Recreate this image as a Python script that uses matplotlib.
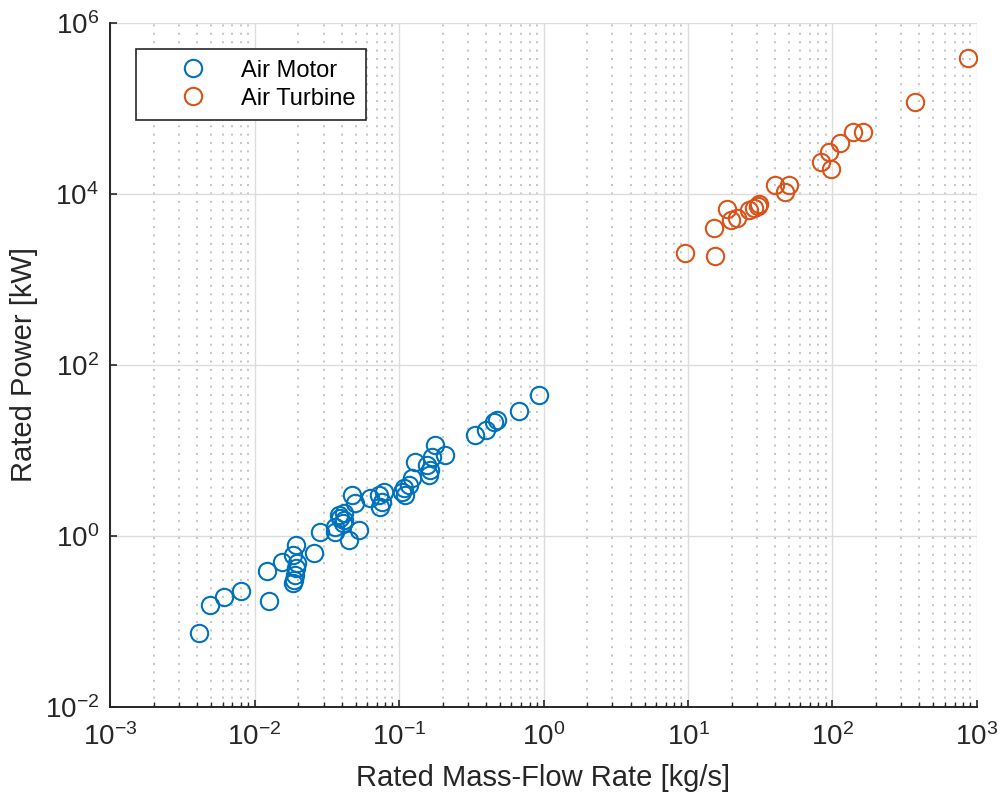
import matplotlib
matplotlib.use("Agg")
import matplotlib.pyplot as plt
import numpy as np

plt.rcParams["font.family"] = ["Liberation Sans", "DejaVu Sans"]
plt.rcParams["mathtext.fontset"] = "custom"
plt.rcParams["mathtext.rm"] = "Liberation Sans"
plt.rcParams["axes.unicode_minus"] = False

# Air motor data (mass flow [kg/s], power [kW])
motor_flow = [0.00415, 0.00488, 0.00610, 0.00807, 0.01268, 0.01222, 0.01545, 0.0194,
              0.01858, 0.0196, 0.0194, 0.0191, 0.0186, 0.0184, 0.0256, 0.0285,
              0.0361, 0.0391, 0.0381, 0.0413, 0.0417, 0.0409, 0.0361, 0.0447,
              0.0525, 0.0476, 0.0492, 0.0633, 0.0722, 0.0762, 0.0742, 0.0782,
              0.1047, 0.1074, 0.110, 0.1164, 0.1228, 0.1295, 0.156, 0.160,
              0.164, 0.169, 0.178, 0.209, 0.337, 0.402, 0.451, 0.476, 0.676, 0.925]
motor_power = [0.074, 0.157, 0.195, 0.229, 0.175, 0.393, 0.500, 0.785,
               0.600, 0.480, 0.419, 0.350, 0.305, 0.280, 0.628, 1.12,
               1.29, 1.61, 1.76, 1.84, 1.54, 1.41, 1.12, 0.897,
               1.17, 3.02, 2.42, 2.76, 3.02, 2.52, 2.20, 3.30,
               3.30, 3.61, 3.02, 3.95, 4.73, 7.39, 6.77, 5.16,
               5.92, 8.47, 11.6, 8.86, 15.2, 17.4, 21.7, 22.8, 29.2, 44.6]

# Air turbine data
turbine_flow = [9.5, 15.3, 15.2, 18.5, 19.7, 21.9, 26.4, 28.5, 30.4, 31.2,
                39.8, 49.8, 46.7, 82.6, 96.9, 94.4, 113.6, 138, 162, 370, 871]
turbine_power = [2025, 1900, 4040, 6620, 4970, 5290, 6500, 6800, 7240, 7650,
                 12700, 12700, 10500, 23900, 19400, 31300, 39200, 53600, 53600,
                 120000, 393000]

fig = plt.figure(figsize=(10.01, 7.94), dpi=100)
ax = fig.add_axes([0.110, 0.1096, 0.866, 0.8615])

ax.plot(motor_flow, motor_power, "o", mfc="none", mec="#0072BD", ms=12.5, mew=1.5,
        label="Air Motor")
ax.plot(turbine_flow, turbine_power, "o", mfc="none", mec="#D95319", ms=12.5, mew=1.5,
        label="Air Turbine")

ax.set_xscale("log")
ax.set_yscale("log")
ax.set_xlim(1e-3, 1e3)
ax.set_ylim(1e-2, 1e6)
ax.set_xticks([10.0**k for k in range(-3, 4)])
ax.set_yticks([10.0**k for k in range(-2, 7, 2)])
ax.xaxis.set_minor_locator(matplotlib.ticker.LogLocator(base=10, subs=np.arange(2, 10), numticks=50))
ax.xaxis.set_minor_formatter(matplotlib.ticker.NullFormatter())
ax.yaxis.set_minor_locator(matplotlib.ticker.NullLocator())

ax.grid(True, which="major", color="#dcdcdc", linewidth=1.0, linestyle="-")
ax.xaxis.grid(True, which="minor", color="#b4b4b4", linewidth=1.1, linestyle=(0, (1.3, 4.2)))
ax.set_axisbelow(True)

for s in ["top", "right"]:
    ax.spines[s].set_visible(False)
for s in ["left", "bottom"]:
    ax.spines[s].set_color("#262626")
    ax.spines[s].set_linewidth(1.4)

ax.tick_params(which="both", direction="in", color="#262626", labelsize=20,
               labelcolor="#262626", top=False, right=False)
ax.tick_params(which="major", length=5, width=1.2)
ax.tick_params(which="minor", length=3.5, width=1.0)
ax.tick_params(axis="x", pad=12)
ax.tick_params(axis="y", pad=8)

ax.set_xlabel("Rated Mass-Flow Rate [kg/s]", fontsize=21, labelpad=9, color="#262626")
ax.set_ylabel("Rated Power [kW]", fontsize=21, labelpad=5, color="#262626")

leg = ax.legend(loc="upper left", bbox_to_anchor=(0.0165, 0.979), fontsize=17,
                fancybox=False, framealpha=1, edgecolor="#262626",
                handletextpad=0.1, borderpad=0.45, handlelength=3.9,
                labelspacing=0.25)
leg.get_frame().set_linewidth(1.2)

fig.savefig("out.png", dpi=100)
